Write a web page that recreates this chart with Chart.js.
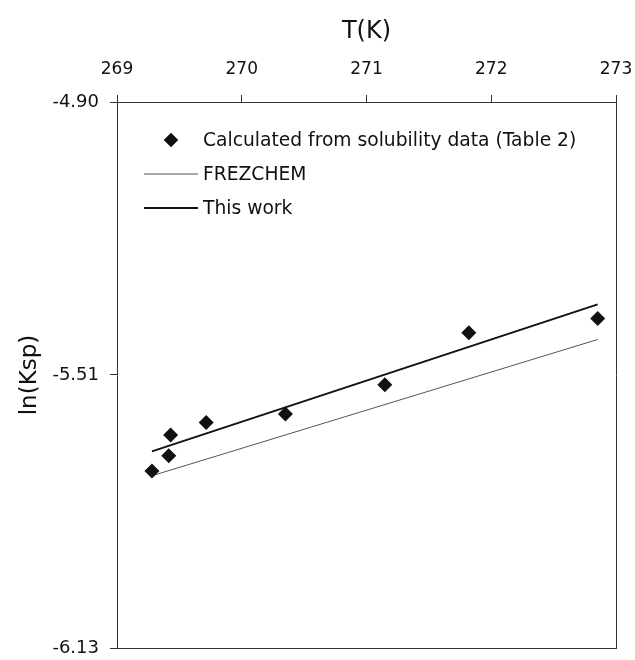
<!DOCTYPE html>
<html>
<head>
<meta charset="utf-8">
<script src="https://cdn.jsdelivr.net/npm/chart.js@4/dist/chart.umd.min.js"></script>
<style>
  body { margin: 0; background: #fff; }
  #wrap { width: 635px; height: 660px; }
</style>
</head>
<body>
<div id="wrap"><canvas id="kspChart"></canvas></div>
<script>
// Measured points: temperature (K) and ln(Ksp)
const tempK = [269.28, 269.415, 269.43, 269.715, 270.35, 271.147, 271.82, 272.853];
const lnKsp = [-5.731, -5.697, -5.650, -5.622, -5.603, -5.537, -5.420, -5.388];

// Model curves, end points over the measured range
const modelT = [269.28, 272.853];
const frezchemLn = [-5.742, -5.435];
const thisWorkLn = [-5.687, -5.356];

// Axis ticks
const xTickMin = 269;
const xTickMax = 273;
const yTickValues = [-6.13, -5.515, -4.90];
const yTickLabels = ["-6.13", "-5.51", "-4.90"];

const seriesLabels = ["Calculated from solubility data (Table 2)", "FREZCHEM", "This work"];

const toPoints = (xs, ys) => xs.map((x, i) => ({ x: x, y: ys[i] }));

Chart.defaults.font.family = "'DejaVu Sans', Verdana, sans-serif";
Chart.defaults.color = "#111";

const axisColor = "#333";

// legend drawn inside the plot, top-left
const innerLegend = {
  id: "innerLegend",
  afterDraw(chart) {
    const { ctx, chartArea } = chart;
    const left = chartArea.left;
    const top = chartArea.top;
    const textX = left + 86;
    const rowY = [top + 38, top + 72, top + 106];
    ctx.save();
    ctx.font = "18.7px 'DejaVu Sans', Verdana, sans-serif";
    ctx.textBaseline = "middle";

    chart.data.datasets.forEach((ds, i) => {
      const y = rowY[i];
      if (i === 0) {
        Chart.helpers.drawPoint(ctx, { pointStyle: "rectRot", radius: 7, borderWidth: 0 }, left + 54, y);
        ctx.fillStyle = "#111";
        ctx.fill();
      } else {
        ctx.beginPath();
        ctx.strokeStyle = ds.borderColor;
        ctx.lineWidth = ds.borderWidth;
        ctx.moveTo(left + 27, y);
        ctx.lineTo(left + 81, y);
        ctx.stroke();
      }
      ctx.fillStyle = "#111";
      ctx.fillText(ds.label, textX, y + 1);
    });
    ctx.restore();
  }
};

// keep the tick labels from pushing the plot box inward
const noLabelPadding = s => {
  s.paddingLeft = 0;
  s.paddingRight = 0;
  s.paddingTop = 0;
  s.paddingBottom = 0;
};

new Chart(document.getElementById("kspChart"), {
  type: "scatter",
  data: {
    datasets: [
      {
        label: seriesLabels[0],
        data: toPoints(tempK, lnKsp),
        pointStyle: "rectRot",
        pointRadius: 7.5,
        pointBackgroundColor: "#111",
        pointBorderWidth: 0,
        showLine: false
      },
      {
        label: seriesLabels[1],
        data: toPoints(modelT, frezchemLn),
        showLine: true,
        borderColor: "#555",
        borderWidth: 1,
        pointRadius: 0
      },
      {
        label: seriesLabels[2],
        data: toPoints(modelT, thisWorkLn),
        showLine: true,
        borderColor: "#111",
        borderWidth: 2,
        pointRadius: 0
      }
    ]
  },
  options: {
    responsive: true,
    maintainAspectRatio: false,
    animation: false,
    layout: { padding: { left: 0, top: 0, right: 19, bottom: 12 } },
    plugins: {
      legend: { display: false },
      tooltip: { enabled: false }
    },
    scales: {
      x: {
        type: "linear",
        position: "top",
        min: xTickMin,
        max: xTickMax,
        afterFit: s => { noLabelPadding(s); s.height = 102; },
        ticks: { stepSize: 1, padding: 15, font: { size: 17 } },
        grid: { drawOnChartArea: false, tickLength: 7, color: axisColor },
        border: { color: axisColor, width: 1 },
        title: { display: true, text: "T(K)", font: { size: 24 }, padding: { top: 17, bottom: 0 } }
      },
      xBottom: {
        type: "linear",
        position: "bottom",
        min: xTickMin,
        max: xTickMax,
        afterBuildTicks: s => { s.ticks = []; },
        afterFit: s => { noLabelPadding(s); s.height = 0; },
        ticks: { display: false },
        grid: { display: false },
        border: { color: axisColor, width: 1 }
      },
      y: {
        type: "linear",
        position: "left",
        min: -6.13,
        max: -4.90,
        afterFit: s => { noLabelPadding(s); s.width = 117; },
        afterBuildTicks: s => { s.ticks = yTickValues.map(v => ({ value: v })); },
        ticks: { padding: 11, font: { size: 18 }, callback: (v, i) => yTickLabels[i] },
        grid: { drawOnChartArea: false, tickLength: 7, color: axisColor },
        border: { color: axisColor, width: 1 },
        title: { display: true, text: "ln(Ksp)", font: { size: 23 }, padding: { top: 16, bottom: 0 } }
      },
      yRight: {
        type: "linear",
        position: "right",
        min: -6.13,
        max: -4.90,
        afterBuildTicks: s => { s.ticks = []; },
        afterFit: s => { noLabelPadding(s); s.width = 0; },
        ticks: { display: false },
        grid: { display: false },
        border: { color: axisColor, width: 1 }
      }
    }
  },
  plugins: [innerLegend]
});
</script>
</body>
</html>
